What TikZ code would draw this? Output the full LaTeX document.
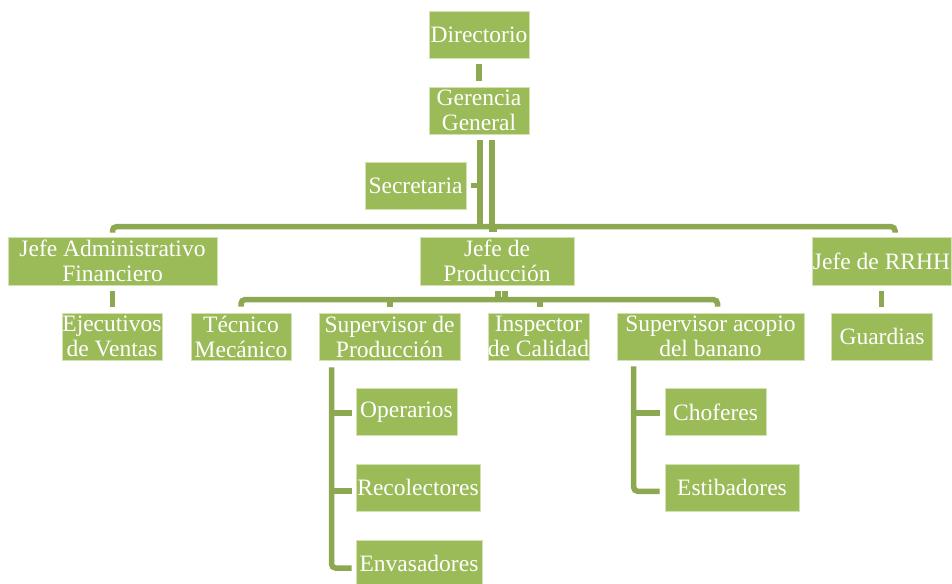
\documentclass[tikz,border=0pt]{standalone}
\usepackage{fontspec}
\setmainfont{Liberation Serif}
\definecolor{boxgreen}{RGB}{155,187,89}
\definecolor{linegreen}{RGB}{140,168,80}
\definecolor{boxedge}{RGB}{210,226,178}
\begin{document}
\begin{tikzpicture}[x=1pt,y=-1pt,
  box/.style={fill=boxgreen, draw=boxedge, line width=0.7pt, text=white,
    font=\fontsize{23.5}{25}\selectfont, align=center, inner sep=0pt},
  conn/.style={draw=linegreen, line width=5.5pt}]
\useasboundingbox (0,0) rectangle (952,583);
\fill[white] (0,0) rectangle (952,583);
% boxes
\node[box, minimum width=100pt, minimum height=47pt] (dir) at (479,34.5) {Directorio};
\node[box, minimum width=100pt, minimum height=47pt] (ger) at (479,110.5) {Gerencia\\General};
\node[box, minimum width=101pt, minimum height=47pt] (sec) at (415.5,185.5) {Secretaria};
\node[box, minimum width=209pt, minimum height=48pt] (jaf) at (112.5,261) {Jefe Administrativo\\Financiero};
\node[box, minimum width=154pt, minimum height=48pt] (jp) at (497,261) {Jefe de\\Producción};
\node[box, minimum width=139pt, minimum height=48pt] (rrhh) at (881.5,261) {Jefe de RRHH};
\node[box, minimum width=100pt, minimum height=47pt] (eje) at (112,336.5) {Ejecutivos\\de Ventas};
\node[box, minimum width=100pt, minimum height=47pt] (tec) at (241,336.5) {Técnico\\Mecánico};
\node[box, minimum width=141pt, minimum height=47pt] (sprod) at (389.5,336.5) {Supervisor de\\Producción};
\node[box, minimum width=101pt, minimum height=47pt] (insp) at (538.5,336.5) {Inspector\\de Calidad};
\node[box, minimum width=187pt, minimum height=47pt] (sacp) at (710.5,336.5) {Supervisor acopio\\del banano};
\node[box, minimum width=101pt, minimum height=47pt] (gua) at (882,336.5) {Guardias};
\node[box, minimum width=101pt, minimum height=47pt] (op) at (406.5,412.2) {Operarios};
\node[box, minimum width=124pt, minimum height=47pt] (rec) at (418,487.8) {Recolectores};
\node[box, minimum width=126pt, minimum height=47pt] (env) at (419,563.5) {Envasadores};
\node[box, minimum width=101pt, minimum height=47pt] (cho) at (715.5,412.2) {Choferes};
\node[box, minimum width=134pt, minimum height=47pt] (est) at (732,487.8) {Estibadores};
% connectors
\coordinate (hub) at (480,227);
\draw[conn, shorten <=6pt, shorten >=6pt] (dir.south) -- (ger.north);
\draw[conn] ([xshift=1pt,yshift=-6pt]ger.south) -- (hub);
\draw[conn] ([xshift=13pt,yshift=-6pt]ger.south) |- ([yshift=7pt]jp.north);
\draw[conn] ([xshift=5pt]sec.east) -- ++(9.5,0);
\draw[conn, rounded corners=4pt] ([yshift=4pt]jaf.north) -- ++(0,-6) -| ([xshift=13.5pt,yshift=4pt]rrhh.north);
\draw[conn, shorten <=6pt, shorten >=6pt] (jaf.south) -- (jaf.south |- eje.north);
\draw[conn, shorten <=6pt, shorten >=6pt] (rrhh.south) -- (rrhh.south |- gua.north);
% production
\draw[conn] ([xshift=1pt,yshift=-6pt]jp.south) -- ++(0,9);
\draw[conn] ([xshift=8pt,yshift=-6pt]jp.south) -- ++(0,9);
\draw[conn, rounded corners=4pt] ([yshift=6pt]tec.north) -- ++(0,-7) -| ([xshift=7pt,yshift=6pt]sacp.north);
\draw[conn] ([xshift=0.5pt,yshift=6pt]sprod.north) -- ++(0,-7);
\draw[conn] ([xshift=1.5pt,yshift=6pt]insp.north) -- ++(0,-7);
% supervisor de produccion
\draw[conn, rounded corners=4pt] ([xshift=-58pt,yshift=-7pt]sprod.south) |- ([xshift=-4pt,yshift=-4.5pt]env.west);
\draw[conn] ([xshift=-4pt,yshift=-1pt]op.west) -- ++(-20.5,0);
\draw[conn] ([xshift=-4pt,yshift=-3pt]rec.west) -- ++(-20.5,0);
% supervisor acopio
\draw[conn, rounded corners=4pt] ([xshift=-76.8pt,yshift=-6pt]sacp.south) |- ([xshift=-5pt,yshift=-3.5pt]est.west);
\draw[conn] ([xshift=-5pt,yshift=-1pt]cho.west) -- ++(-26.3,0);
\end{tikzpicture}
\end{document}
